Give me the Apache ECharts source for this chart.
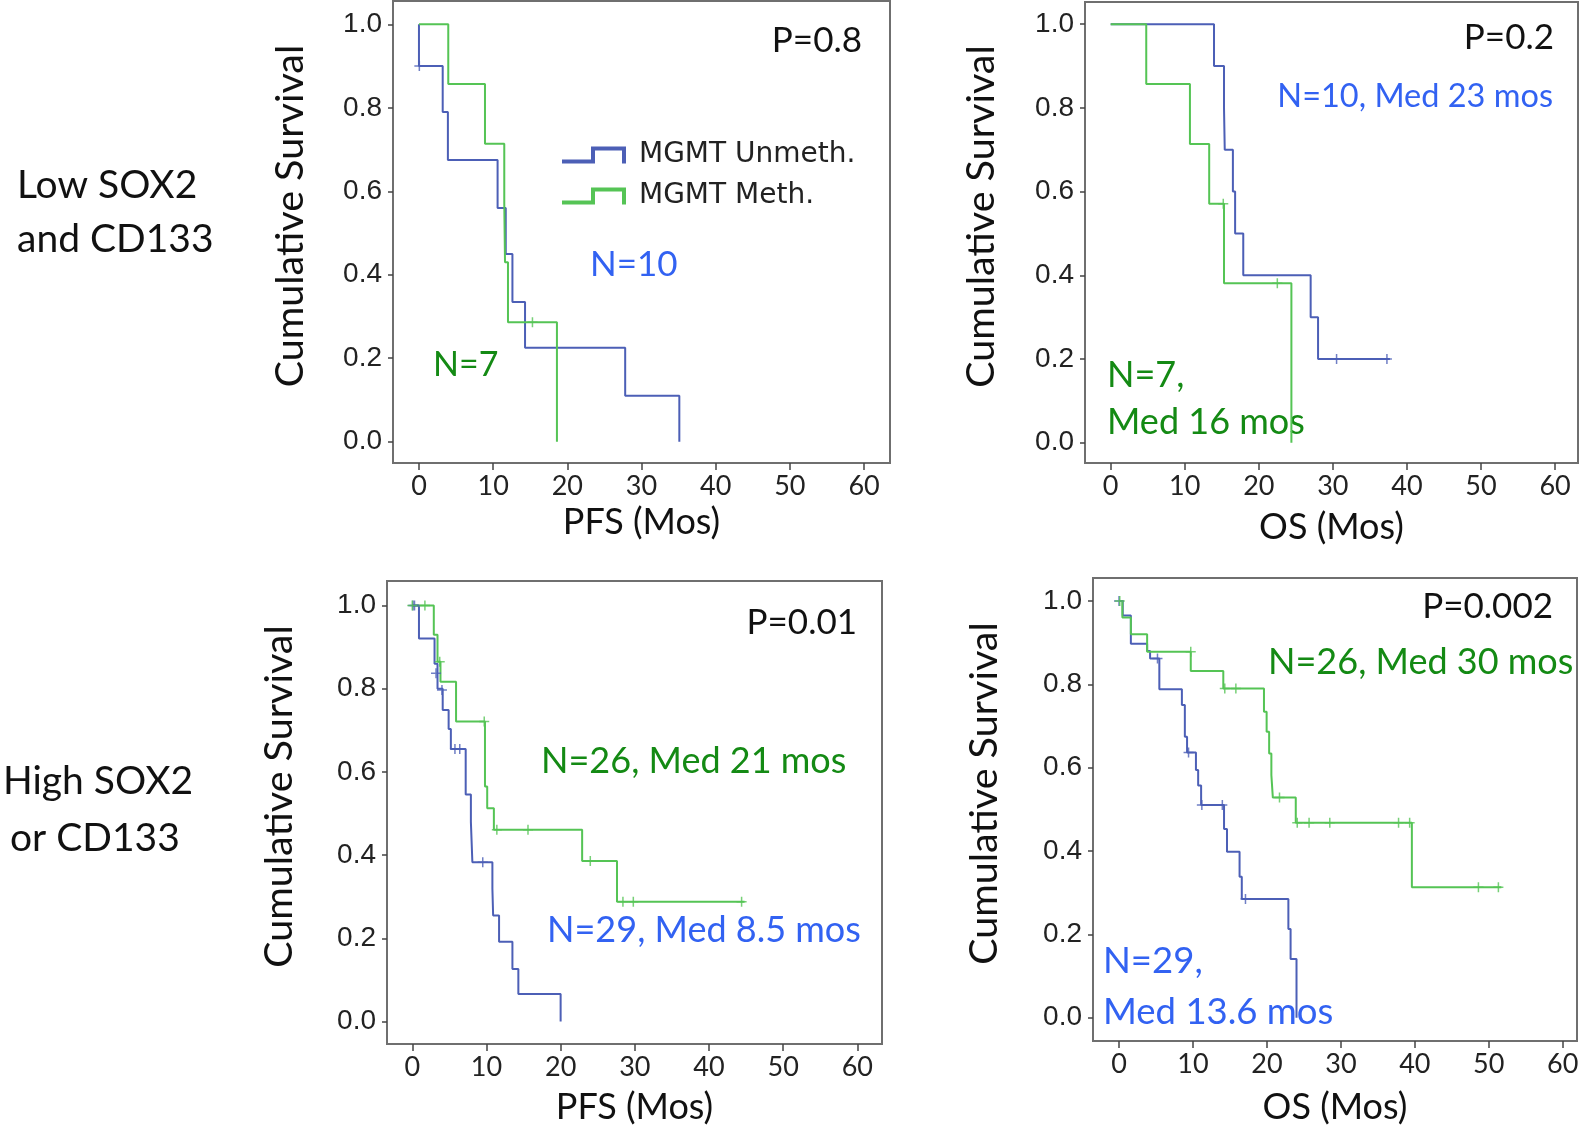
<!DOCTYPE html>
<html><head><meta charset="utf-8">
<script src="https://cdn.jsdelivr.net/npm/echarts@6/dist/echarts.min.js"></script>
<style>html,body{margin:0;padding:0;background:#fff}#chart{width:1594px;height:1132px}</style>
</head><body><div id="chart"></div>
<script>
// ---------- tick labels ----------
const xTicks = [0, 10, 20, 30, 40, 50, 60];
const yTicks = [0, 0.2, 0.4, 0.6, 0.8, 1.0];
const seriesNames = ['MGMT Unmeth.', 'MGMT Meth.'];
const xTitles = ['PFS (Mos)', 'OS (Mos)', 'PFS (Mos)', 'OS (Mos)'];
const yTitle = 'Cumulative Survival';
const rowLabels = [['Low SOX2', 'and CD133'], ['High SOX2', 'or CD133']];

// ---------- Panel 1: PFS, low SOX2 and CD133 ----------
const pfsLowUnT = [0, 0, 3.2, 3.9, 10.6, 11.7, 12.6, 14.3, 27.8, 35.1];
const pfsLowUnS = [1, 0.9, 0.79, 0.675, 0.56, 0.45, 0.335, 0.225, 0.11, 0];
const pfsLowUnCT = [0.05];
const pfsLowUnCS = [0.9];
const pfsLowMeT = [0, 3.95, 8.9, 11.5, 11.6, 12.0, 18.6];
const pfsLowMeS = [1, 0.857, 0.714, 0.571, 0.43, 0.286, 0];
const pfsLowMeCT = [15.3];
const pfsLowMeCS = [0.286];

// ---------- Panel 2: OS, low SOX2 and CD133 ----------
const osLowUnT = [0, 13.95, 15.3, 15.4, 16.5, 16.8, 17.9, 27.0, 28.0, 37.7];
const osLowUnS = [1, 0.9, 0.8, 0.7, 0.6, 0.5, 0.4, 0.3, 0.2, 0.2];
const osLowUnCT = [30.5, 37.3];
const osLowUnCS = [0.2, 0.2];
const osLowMeT = [0, 4.8, 10.7, 13.3, 15.3, 24.4];
const osLowMeS = [1, 0.857, 0.714, 0.571, 0.381, 0];
const osLowMeCT = [15.2, 22.5];
const osLowMeCS = [0.571, 0.381];

// ---------- Panel 3: PFS, high SOX2 or CD133 ----------
const pfsHighUnT = [0, 0.9, 3.0, 3.4, 4.1, 4.9, 5.2, 7.2, 7.9, 8.1, 10.8, 10.9, 11.7, 13.5, 14.3, 20.0];
const pfsHighUnS = [1, 0.921, 0.86, 0.80, 0.749, 0.703, 0.655, 0.546, 0.48, 0.383, 0.32, 0.255, 0.192, 0.126, 0.066, 0];
const pfsHighUnCT = [0.1, 0.3, 3.2, 4.0, 5.75, 6.4, 9.5];
const pfsHighUnCS = [1, 1, 0.837, 0.797, 0.655, 0.655, 0.383];
const pfsHighMeT = [0, 2.9, 3.4, 3.8, 5.9, 9.8, 10.1, 11.0, 22.9, 27.6, 44.8];
const pfsHighMeS = [1, 0.93, 0.865, 0.817, 0.721, 0.565, 0.513, 0.461, 0.386, 0.288, 0.288];
const pfsHighMeCT = [0, 1.7, 3.7, 9.7, 11.4, 15.6, 24.0, 28.4, 29.8, 44.4];
const pfsHighMeCS = [1, 1, 0.865, 0.721, 0.461, 0.461, 0.386, 0.288, 0.288, 0.288];

// ---------- Panel 4: OS, high SOX2 or CD133 ----------
const osHighUnT = [0, 0.5, 1.6, 3.8, 4.2, 5.45, 8.5, 8.9, 9.2, 10.4, 10.7, 11.1, 14.2, 14.6, 16.3, 16.6, 22.9, 23.2, 24.0];
const osHighUnS = [1, 0.965, 0.897, 0.88, 0.862, 0.788, 0.75, 0.674, 0.636, 0.594, 0.557, 0.51, 0.453, 0.398, 0.338, 0.285, 0.213, 0.141, 0];
const osHighUnCT = [0, 5.2, 9.4, 11.2, 13.97, 17.1];
const osHighUnCS = [1, 0.862, 0.636, 0.51, 0.51, 0.285];
const osHighMeT = [0, 0.45, 1.6, 3.8, 9.7, 14.1, 19.6, 19.96, 20.3, 20.6, 20.8, 23.9, 39.6, 51.7];
const osHighMeS = [1, 0.96, 0.92, 0.878, 0.832, 0.79, 0.734, 0.686, 0.634, 0.582, 0.528, 0.468, 0.313, 0.313];
const osHighMeCT = [0.1, 9.7, 14.3, 15.8, 21.7, 24.1, 25.7, 28.5, 37.8, 39.3, 48.6, 51.3];
const osHighMeCS = [1, 0.878, 0.79, 0.79, 0.528, 0.468, 0.468, 0.468, 0.468, 0.468, 0.313, 0.313];

// ---------- annotation texts ----------
const pTexts = ['P=0.8', 'P=0.2', 'P=0.01', 'P=0.002'];
const nTexts = [
  [['N=10'], ['N=7']],
  [['N=10, Med 23 mos'], ['N=7,', 'Med 16 mos']],
  [['N=29, Med 8.5 mos'], ['N=26, Med 21 mos']],
  [['N=29,', 'Med 13.6 mos'], ['N=26, Med 30 mos']]
];

// ================= layout / style (not data) =================
const BLUE_LINE = '#4c5fb6', GREEN_LINE = '#55c455';
const BLUE_TXT = '#3262f2', GREEN_TXT = '#148a14';
const panels = [
  {grid:{left:393, top:1, width:497, height:462}, x:[-3.5, 63.5], y:[-0.051, 1.056], xGap:41, yGap:83, yPad:12,
   un:[pfsLowUnT, pfsLowUnS, pfsLowUnCT, pfsLowUnCS], me:[pfsLowMeT, pfsLowMeS, pfsLowMeCT, pfsLowMeCS]},
  {grid:{left:1085, top:2, width:493, height:461}, x:[-3.47, 63.1], y:[-0.0485, 1.053], xGap:46, yGap:84, yPad:2,
   un:[osLowUnT, osLowUnS, osLowUnCT, osLowUnCS], me:[osLowMeT, osLowMeS, osLowMeCT, osLowMeCS]},
  {grid:{left:387, top:581, width:495, height:463}, x:[-3.41, 63.33], y:[-0.054, 1.059], xGap:45, yGap:88, yPad:4,
   un:[pfsHighUnT, pfsHighUnS, pfsHighUnCT, pfsHighUnCS], me:[pfsHighMeT, pfsHighMeS, pfsHighMeCT, pfsHighMeCS]},
  {grid:{left:1093, top:578, width:484, height:463}, x:[-3.52, 61.93], y:[-0.056, 1.055], xGap:48, yGap:89, yPad:4,
   un:[osHighUnT, osHighUnS, osHighUnCT, osHighUnCS], me:[osHighMeT, osHighMeS, osHighMeCT, osHighMeCS]}
];
// annotation placement: [x, y, align, fontSize] per text line
const pPos = [[862, 41, 'right'], [1554, 38, 'right'], [857, 623, 'right'], [1553, 607, 'right']];
const nPos = [
  [[[590, 265, 'left', 35]], [[433, 365, 'left', 34]]],
  [[[1553, 97, 'right', 32.5]], [[1107, 375, 'left', 36], [1107, 422, 'left', 36]]],
  [[[547, 930, 'left', 36]], [[541, 761, 'left', 36]]],
  [[[1103, 961, 'left', 36.5], [1103, 1012, 'left', 36.5]], [[1268, 662, 'left', 36]]]
];
const rowPos = [[[17, 185], [17, 239]], [[3, 781], [10, 838]]];

const zip = (a, b) => a.map((v, i) => [v, b[i]]);
const PLUS = 'path://M4.25,0h1.5v10h-1.5z M0,4.25h10v1.5h-10z';
const STEP_ICON = 'path://M0,13L29,13L29,0L64,0L64,17L60,17L60,4L33,4L33,17L0,17Z';

const grids = [], xAxes = [], yAxes = [], series = [], graphics = [];
panels.forEach((p, i) => {
  grids.push(Object.assign({show:true, borderColor:'#6f6f6f', borderWidth:2, containLabel:false}, p.grid));
  xAxes.push({type:'value', gridIndex:i, min:p.x[0], max:p.x[1],
    name:xTitles[i], nameLocation:'middle', nameGap:p.xGap,
    nameTextStyle:{fontFamily:'Lato', fontSize:36, color:'#111'},
    axisLine:{show:false, onZero:false}, splitLine:{show:false},
    axisTick:{show:true, length:7, customValues:xTicks, lineStyle:{color:'#444', width:1.5}},
    axisLabel:{customValues:xTicks, fontFamily:'Lato', fontSize:27, color:'#222', margin:10}});
  yAxes.push({type:'value', gridIndex:i, min:p.y[0], max:p.y[1],
    name:yTitle, nameLocation:'middle', nameRotate:90, nameGap:p.yGap,
    nameTextStyle:{fontFamily:'Lato', fontSize:39.5, color:'#111', padding:[0,0,0,32]},
    axisLine:{show:false, onZero:false}, splitLine:{show:false},
    axisTick:{show:true, length:5, customValues:yTicks, lineStyle:{color:'#444', width:1.5}},
    axisLabel:{customValues:yTicks, fontFamily:'Liberation Sans', fontSize:28, color:'#222', margin:11,
      padding:[p.yPad,0,0,0], formatter:v => v.toFixed(1)}});
  [[p.un, BLUE_LINE, seriesNames[0]], [p.me, GREEN_LINE, seriesNames[1]]].forEach(([d, col, nm]) => {
    series.push({type:'line', name:nm, xAxisIndex:i, yAxisIndex:i, step:'end', showSymbol:false, symbol:'none',
      data:zip(d[0], d[1]), lineStyle:{color:col, width:2}, itemStyle:{color:col}, z:3, animation:false});
  });
  [[p.un, BLUE_LINE, seriesNames[0]], [p.me, GREEN_LINE, seriesNames[1]]].forEach(([d, col, nm]) => {
    series.push({type:'scatter', name:nm, xAxisIndex:i, yAxisIndex:i, symbol:PLUS, symbolSize:[10,10],
      data:zip(d[2], d[3]), itemStyle:{color:col}, z:4, animation:false, silent:true});
  });
  graphics.push({type:'text', x:pPos[i][0], y:pPos[i][1],
    style:{text:pTexts[i], font:'35px Lato', fill:'#111', align:pPos[i][2], verticalAlign:'middle'}});
  nTexts[i].forEach((lines, g) => {
    lines.forEach((t, k) => {
      const pos = nPos[i][g][k];
      graphics.push({type:'text', x:pos[0], y:pos[1],
        style:{text:t, font:pos[3] + 'px Lato', fill:g === 0 ? BLUE_TXT : GREEN_TXT, align:pos[2], verticalAlign:'middle'}});
    });
  });
});
rowLabels.forEach((lines, r) => lines.forEach((t, k) => {
  graphics.push({type:'text', x:rowPos[r][k][0], y:rowPos[r][k][1],
    style:{text:t, font:'39px Lato', fill:'#111', align:'left', verticalAlign:'middle'}});
}));

const chart = echarts.init(document.getElementById('chart'), null, {renderer:'canvas'});
chart.setOption({
  animation:false,
  backgroundColor:'#fff',
  grid:grids, xAxis:xAxes, yAxis:yAxes, series:series, graphic:graphics,
  legend:{left:557, top:131, orient:'vertical', itemWidth:64, itemHeight:17, itemGap:3, selectedMode:false,
    data:[{name:seriesNames[0], icon:STEP_ICON, itemStyle:{color:BLUE_LINE, borderWidth:0}},
          {name:seriesNames[1], icon:STEP_ICON, itemStyle:{color:GREEN_LINE, borderWidth:0}}],
    textStyle:{fontFamily:'DejaVu Sans', fontSize:28, color:'#222', lineHeight:30, padding:[0,0,8,8]}}
});
</script></body></html>
